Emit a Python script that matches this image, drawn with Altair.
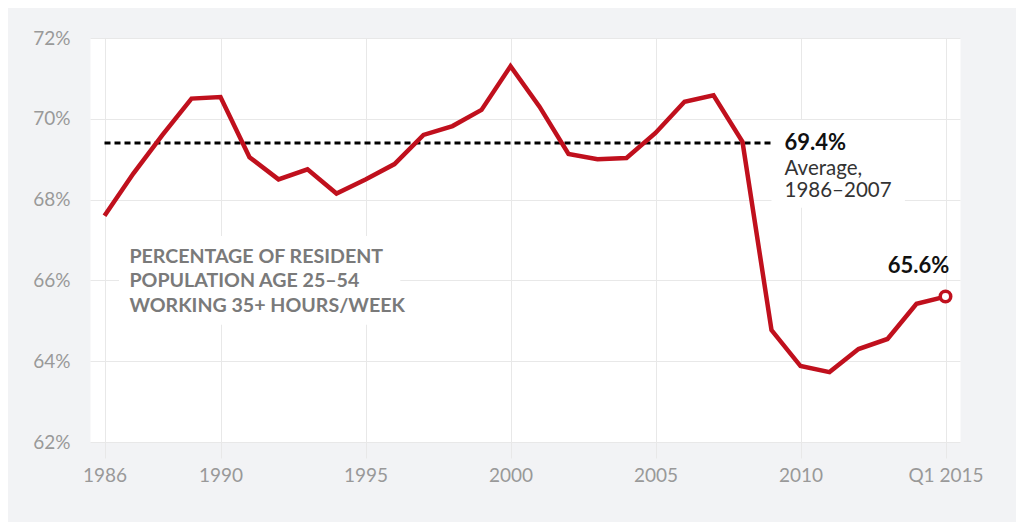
import altair as alt
import pandas as pd

# ---- data ----
years = list(range(1986, 2016))
rates = [67.6, 68.65, 69.6, 70.5, 70.54, 69.05, 68.5, 68.75, 68.15, 68.5,
         68.88, 69.6, 69.82, 70.22, 71.3, 70.3, 69.13, 69.0, 69.03, 69.65,
         70.42, 70.58, 69.43, 64.77, 63.88, 63.73, 64.3, 64.55, 65.42, 65.6]

avg_value = 69.4
avg_start = 1986
avg_end = 2009.1

tick_values = [1986, 1990, 1995, 2000, 2005, 2010, 2015]
tick_labels = ["1986", "1990", "1995", "2000", "2005", "2010", "Q1 2015"]
y_ticks = [62, 64, 66, 68, 70, 72]

# annotation background boxes (data units)
box_x = [1986.5, 2009.0]
box_x2 = [1996.2, 2013.6]
box_y = [67.1, 69.97]
box_y2 = [64.9, 67.8]

note_text = "PERCENTAGE OF RESIDENT\nPOPULATION AGE 25–54\nWORKING 35+ HOURS/WEEK"
note_x = 1986.86
note_y = 66.58

avg_label = "69.4%"
avg_sub = ["Average,", "1986–2007"]
avg_label_x = 2009.45
avg_sub_y = [68.76, 68.22]

end_label = "65.6%"
end_label_y = 66.36

# ---- frames ----
df = pd.DataFrame({"year": years, "rate": rates})
end_df = df.tail(1)
avg_df = pd.DataFrame({"start": [avg_start], "end": [avg_end], "v": [avg_value]})
box_df = pd.DataFrame({"x": box_x, "x2": box_x2, "y": box_y, "y2": box_y2})

label_expr = " : ".join(
    [f"datum.value == {v} ? '{l}'" for v, l in zip(tick_values, tick_labels)]
) + " : datum.value"

FONT = "Lato"
GRID = "#e8e8e8"

x_scale = alt.Scale(domain=[1985.5, 2015.5], nice=False, zero=False)
y_scale = alt.Scale(domain=[62, 72], nice=False, zero=False)

x_axis = alt.Axis(values=tick_values, labelExpr=label_expr, grid=True,
                  gridColor=GRID, tickColor=GRID, tickSize=16, tickWidth=1,
                  domain=False, labelFont=FONT, labelFontSize=19,
                  labelColor="#999999", labelPadding=8, title=None)
y_axis = alt.Axis(values=y_ticks, labelExpr="datum.value + '%'", grid=True,
                  gridColor=GRID, ticks=False, domain=False, labelFont=FONT,
                  labelFontSize=19, labelColor="#999999", labelPadding=20,
                  title=None)

base_x = alt.X("year:Q", scale=x_scale, axis=x_axis)
base_y = alt.Y("rate:Q", scale=y_scale, axis=y_axis)

boxes = alt.Chart(box_df).mark_rect(color="white").encode(
    x=alt.X("x:Q", scale=x_scale, axis=x_axis), x2="x2:Q",
    y=alt.Y("y:Q", scale=y_scale, axis=y_axis), y2="y2:Q")

avg_rule = alt.Chart(avg_df).mark_rule(color="black", strokeWidth=3,
                                       strokeDash=[6, 4]).encode(
    x=alt.X("start:Q", scale=x_scale), x2="end:Q",
    y=alt.Y("v:Q", scale=y_scale))

line = alt.Chart(df).mark_line(color="#c0101d", strokeWidth=4.5,
                               strokeJoin="miter").encode(x=base_x, y=base_y)

endpoint = alt.Chart(end_df).mark_point(shape="circle", size=110, filled=True,
                                        fill="white", stroke="#c0101d",
                                        strokeWidth=3.5, opacity=1).encode(
    x=alt.X("year:Q", scale=x_scale), y=alt.Y("rate:Q", scale=y_scale))

end_txt = alt.Chart(end_df).mark_text(font=FONT, fontSize=22, fontWeight="bold",
                                      color="#111111", align="center",
                                      baseline="middle", dx=-27).encode(
    x=alt.X("year:Q", scale=x_scale),
    y=alt.Y("ly:Q", scale=y_scale), text=alt.value(end_label)
).transform_calculate(ly=str(end_label_y))

avg_txt = alt.Chart(avg_df).mark_text(font=FONT, fontSize=22, fontWeight="bold",
                                      color="#111111", align="left",
                                      baseline="middle").encode(
    x=alt.X("lx:Q", scale=x_scale), y=alt.Y("v:Q", scale=y_scale),
    text=alt.value(avg_label)
).transform_calculate(lx=str(avg_label_x))

sub_df = pd.DataFrame({"t": avg_sub, "y": avg_sub_y, "x": [avg_label_x] * 2})
sub_txt = alt.Chart(sub_df).mark_text(font=FONT, fontSize=20.5, color="#333333",
                                      align="left", baseline="middle").encode(
    x=alt.X("x:Q", scale=x_scale), y=alt.Y("y:Q", scale=y_scale), text="t:N")

note_df = pd.DataFrame({"t": [note_text], "x": [note_x], "y": [note_y]})
note = alt.Chart(note_df).mark_text(font=FONT, fontSize=19.6, fontWeight="bold",
                                    color="#7a7a7a", align="left",
                                    baseline="middle", lineBreak="\n",
                                    lineHeight=24.5).encode(
    x=alt.X("x:Q", scale=x_scale), y=alt.Y("y:Q", scale=y_scale), text="t:N")

chart = alt.layer(boxes, avg_rule, line, endpoint, end_txt, avg_txt, sub_txt,
                  note).properties(
    width=870, height=404,
    autosize=alt.AutoSizeParams(type="none"),
    padding={"left": 82, "top": 30, "right": 56, "bottom": 80},
    background="#f2f3f5",
).configure_view(fill="white", stroke="transparent")

chart.save("out.html", embed_options={"renderer": "svg", "actions": False})
